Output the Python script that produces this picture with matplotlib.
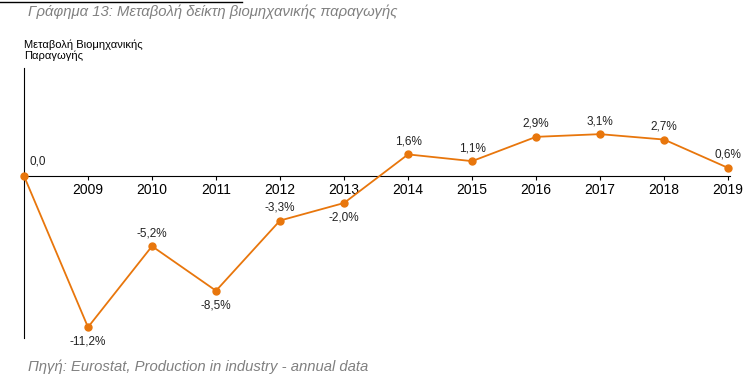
import matplotlib
matplotlib.use("Agg")
import matplotlib.pyplot as plt
from matplotlib.lines import Line2D

years = [2008, 2009, 2010, 2011, 2012, 2013, 2014, 2015, 2016, 2017, 2018, 2019]
values = [0.0, -11.2, -5.2, -8.5, -3.3, -2.0, 1.6, 1.1, 2.9, 3.1, 2.7, 0.6]
labels = ["0,0", "-11,2%", "-5,2%", "-8,5%", "-3,3%", "-2,0%", "1,6%", "1,1%", "2,9%", "3,1%", "2,7%", "0,6%"]
label_pos = ["above", "below", "above", "below", "above", "below", "above", "above", "above", "above", "above", "above"]
tick_years = years[1:]

title = "Γράφημα 13: Μεταβολή δείκτη βιομηχανικής παραγωγής"
ylabel = "Μεταβολή Βιομηχανικής\nΠαραγωγής"
source = "Πηγή: Eurostat, Production in industry - annual data"

plt.rcParams['font.family'] = ['Liberation Sans', 'DejaVu Sans']
orange = "#E8760C"
txt = "#222222"

fig = plt.figure(figsize=(7.55, 3.84), dpi=100)
ax = fig.add_axes([24/755, 46/384, (730-24)/755, (338-68)/384])
ax.plot(years, values, color=orange, lw=1.3, marker='o', ms=5, zorder=3, clip_on=False)
ax.set_xlim(2008, 2019.03)
ax.set_ylim(-12, 8)

for sp in ['top', 'right']:
    ax.spines[sp].set_visible(False)
ax.spines['left'].set_color('black')
ax.spines['left'].set_linewidth(0.8)
ax.set_yticks([])
ax.set_xticks(tick_years)
ax.set_xticklabels([str(y) for y in tick_years], fontsize=8.5, color=txt)
ax.tick_params(axis='x', length=3, width=0.8, pad=2, color='black')
ax.xaxis.set_ticks_position('bottom')
ax.spines['bottom'].set_position(('data', 0))
ax.spines['bottom'].set_linewidth(0.8)

for x, v, lab, pos in zip(years, values, labels, label_pos):
    if x == 2008:
        ax.annotate(lab, (x, v), xytext=(4, 6), textcoords='offset points', ha='left', va='bottom', fontsize=8.5, color=txt)
    elif pos == "above":
        ax.annotate(lab, (x, v), xytext=(0, 5), textcoords='offset points', ha='center', va='bottom', fontsize=8.5, color=txt)
    else:
        ax.annotate(lab, (x, v), xytext=(0, -6), textcoords='offset points', ha='center', va='top', fontsize=8.5, color=txt)

fig.text(24/755, 1 - 40/384, ylabel, fontsize=8, ha='left', va='top', linespacing=1.0)
fig.text(28/755, 1 - 12/384, title, fontsize=10.7, style='italic', color='#808080', ha='left', va='center')
fig.text(28/755, 1 - 367/384, source, fontsize=10.7, style='italic', color='#808080', ha='left', va='center')
fig.add_artist(Line2D([0, 242/755], [1 - 2/384, 1 - 2/384], color='black', lw=1.0, transform=fig.transFigure))

fig.savefig("out.png", dpi=100)
